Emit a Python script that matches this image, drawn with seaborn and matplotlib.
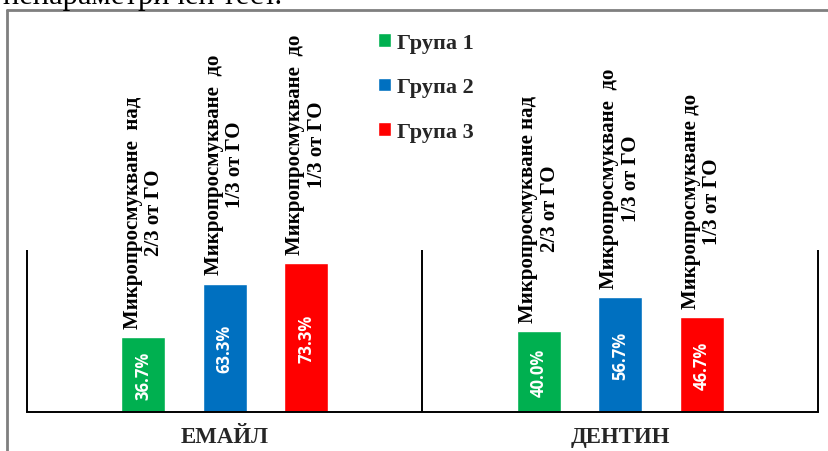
import matplotlib
matplotlib.use("Agg")
import matplotlib.pyplot as plt
from matplotlib.lines import Line2D
import seaborn as sns
import pandas as pd

# --- data -------------------------------------------------------------
categories = ["ЕМАЙЛ", "ДЕНТИН"]
groups = ["Група 1", "Група 2", "Група 3"]
email_values = [36.7, 63.3, 73.3]
dentin_values = [40.0, 56.7, 46.7]
email_labels = [
    "Микропросмукване  над\n2/3 от ГО",
    "Микропросмукване  до\n1/3 от ГО",
    "Микропросмукване  до\n1/3 от ГО",
]
dentin_labels = [
    "Микропросмукване над\n2/3 от ГО",
    "Микропросмукване  до\n1/3 от ГО",
    "Микропросмукване до\n1/3 от ГО",
]
colors = ["#00B050", "#0070C0", "#FF0000"]
caption = "непараметричен тест."

df = pd.DataFrame({
    "category": [c for c in categories for _ in groups],
    "group": groups * len(categories),
    "value": email_values + dentin_values,
})
bar_labels = {
    "ЕМАЙЛ": email_labels,
    "ДЕНТИН": dentin_labels,
}

sns.set_theme(style="white")
plt.rcParams["font.family"] = ["Liberation Serif", "DejaVu Serif"]

W, H = 829, 452
fig = plt.figure(figsize=(W / 100, H / 100), dpi=100)
fig.patch.set_facecolor("white")

# plot area: baseline at y=413 px, 100 % reaches y=210 px
ax = fig.add_axes([27 / W, (H - 413) / H, (818 - 27) / W, 203 / H])
sns.barplot(data=df, x="category", y="value", hue="group",
            palette=colors, width=0.617, gap=0.46, saturation=1,
            ax=ax, legend=True)
ax.set_xlim(-0.5, 1.5)
ax.set_ylim(0, 100)
ax.set_xlabel("")
ax.set_ylabel("")
ax.set_yticks([])
for side in ("top", "left", "right"):
    ax.spines[side].set_visible(False)
ax.spines["bottom"].set_color("black")
ax.spines["bottom"].set_linewidth(1.4)
ax.tick_params(axis="x", length=0, pad=10)
for lab in ax.get_xticklabels():
    lab.set_fontsize(16.5)
    lab.set_fontweight("bold")
    lab.set_family(["Liberation Serif"])

# category separators
ax.vlines([-0.5, 0.5, 1.5], 0, 80, color="black", lw=1.4, clip_on=False)

# value labels inside bars and descriptions above them
for gi, container in enumerate(ax.containers):
    for ci, bar in enumerate(container):
        val = bar.get_height()
        xc = bar.get_x() + bar.get_width() / 2
        ax.text(xc, val / 2, f"{val:.1f}%", rotation=90, ha="center",
                va="center", color="white", fontsize=12, fontweight="bold",
                family=["Open Sans", "DejaVu Sans"])
        ax.text(xc, val + 4.5, bar_labels[categories[ci]][gi], rotation=90,
                ha="center", va="bottom", multialignment="center",
                fontsize=15, fontweight="bold", linespacing=1.1,
                color="black", clip_on=False)

# legend
handles, labels = ax.get_legend_handles_labels()
ax.legend(handles, labels, loc="upper left",
          bbox_to_anchor=(378 / W, 1 - 34 / H),
          bbox_transform=fig.transFigure, frameon=False,
          handlelength=0.6, handleheight=0.55, handletextpad=0.25,
          labelspacing=1.1, borderpad=0, borderaxespad=0,
          prop={"family": "Liberation Serif", "weight": "bold", "size": 16})

# frame around the chart
frame_kw = dict(color="#7f7f7f", lw=2, transform=fig.transFigure)
fig.add_artist(Line2D([7 / W, 1.01], [1 - 11 / H, 1 - 11 / H], **frame_kw))
fig.add_artist(Line2D([7 / W, 7 / W], [1 - 11 / H, -0.01], **frame_kw))

# tail of the preceding paragraph
fig.text(3 / W, 1 - 4 / H, caption, ha="left", va="baseline",
         fontsize=22, color="black")

fig.savefig("out.png", dpi=100)
